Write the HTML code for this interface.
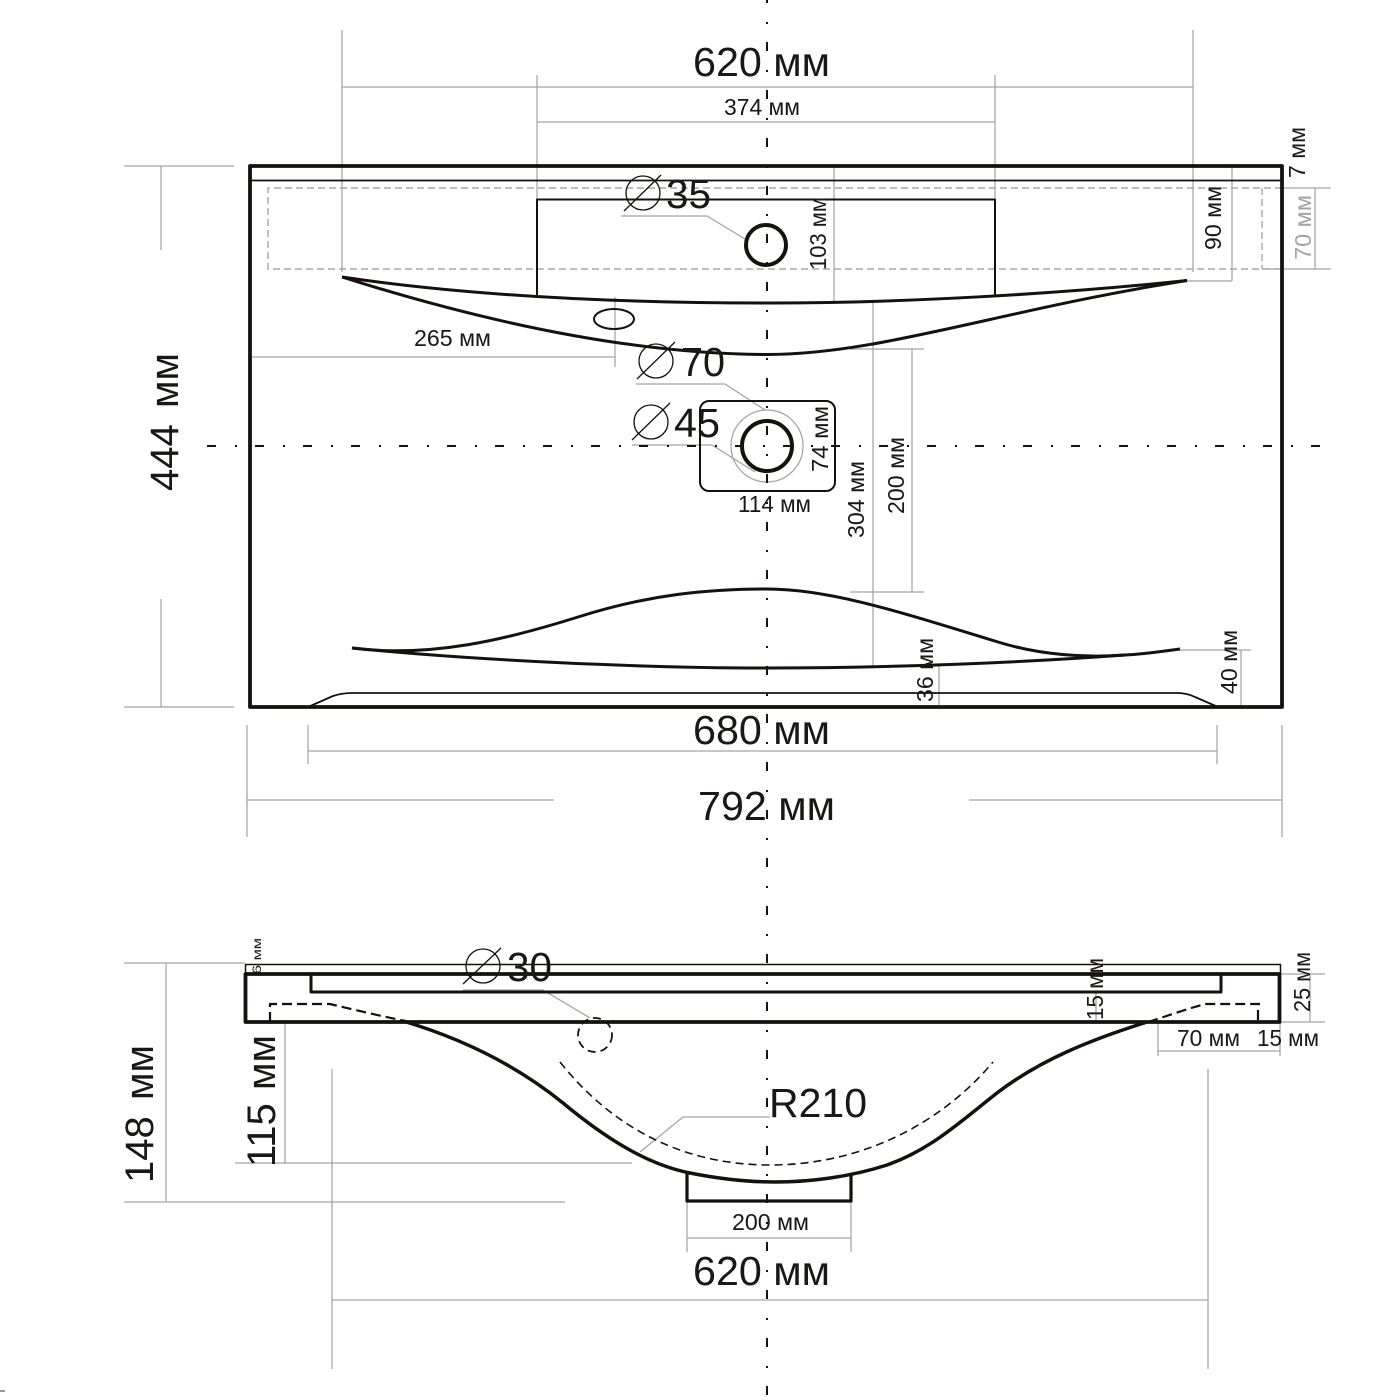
<!DOCTYPE html>
<html><head><meta charset="utf-8"><style>
html,body{margin:0;padding:0;background:#fff}
svg{display:block}
text{font-family:"Liberation Sans",sans-serif;fill:#1a1716}
.g{stroke:#a3a3a3;stroke-width:1.25;fill:none}
.k{stroke:#15110f;fill:none;stroke-linejoin:round}
</style></head><body>
<svg width="1400" height="1400" viewBox="0 0 1400 1400" xmlns="http://www.w3.org/2000/svg">
<rect width="1400" height="1400" fill="#fff"/>
<!-- grey dimension lines -->
<path class="g" d="M342 30V272M1193 30V272M342 87H1193M537 75V296M995 75V296M537 122H995
M124 166H234M124 707H234M161 166V250M161 599V707
M250 357H615M615 297V367M834 166V302M1232 166V281M1187 281H1232
M1282 188H1331M1262 269H1331M1315 188V269
M850 349H924M850 592H924M912 349V592M873 302V666M939 665V707M1241 650V707M1180 650H1251
M308 725V764M1217 725V764M308 751H1217M247 725V837M1282 725V837M247 800H554M969 800H1282
M124 963H245M124 1202H565M166 963V1202M285 1022V1163M235 1163H632
M332 1069V1369M1208 1069V1369M332 1300H1208M687 1201V1252M851 1201V1252M687 1238H851
M1096 992V1022M1280 974H1325M1280 1022H1325M1310 974V1022
M1158 1022V1056M1280 1022V1056M1158 1051H1280
M621 216H707L745 239M636 384H725L765 410M632 445H712L755 472M463 990H543L590 1018M770 1117H683L640 1152"/>
<circle class="g" cx="767" cy="446" r="36"/>
<!-- dashed grey rectangle -->
<path d="M1282 188H268V269H1282M1262 188V269" fill="none" stroke="#a8a8a8" stroke-width="1.4" stroke-dasharray="7 4"/>
<!-- axes -->
<path class="k" d="M767 0V1400" stroke-width="2" stroke-dasharray="9 19 2 18" stroke-dashoffset="6"/>
<path class="k" d="M207 446H1320" stroke-width="2" stroke-dasharray="9 19 2 18"/>
<!-- top view -->
<rect class="k" x="250" y="166" width="1032" height="541" stroke-width="3.800"/>
<path class="k" d="M250 180.500H1282" stroke-width="1.800"/>
<path class="k" d="M537 297V199.500H995V297" stroke-width="2"/>
<path class="k" stroke-width="3" d="M342 277C470 296 620 303 770 303C900 303 1060 294 1187 280.500"/>
<path class="k" stroke-width="3" d="M342 277C465 316 620 354 767 354.500C880 354.500 1000 310 1187 280.500"/>
<circle class="k" cx="766" cy="245" r="20" stroke-width="4"/>
<ellipse class="k" cx="614" cy="319" rx="20" ry="10" stroke-width="2"/>
<rect class="k" x="700" y="401" width="135" height="90" rx="9" stroke-width="2"/>
<circle class="k" cx="767" cy="446" r="25" stroke-width="4"/>
<path class="k" stroke-width="3" d="M352 648C430 658 505 640 578 617C650 594 710 589 767 589C830 589 900 612 998 642C1040 655 1085 658 1125 655C1145 654 1165 651 1180 649"/>
<path class="k" stroke-width="3" d="M352 648C470 660 640 668 767 668C900 668 1030 662 1125 655"/>
<path class="k" stroke-width="1.800" d="M308 707L333 696Q342 693 352 693H1177Q1187 693 1195 697L1218 707"/>
<!-- side view -->
<rect class="k" x="245.500" y="964.500" width="1035" height="9.500" stroke-width="1.500"/>
<rect class="k" x="245.500" y="974" width="1034" height="48" stroke-width="3.800"/>
<path class="k" stroke-width="3" d="M311 975V992H1221V975"/>
<path class="k" stroke-width="3.500" d="M403 1021C460 1038 515 1064 563 1103C610 1142 650 1165 690 1173C715 1178 745 1182 775 1182C810 1182 850 1177 887 1165C930 1150 960 1122 997 1093C1040 1060 1090 1040 1147 1022"/>
<path class="k" stroke-width="3.200" d="M687 1172V1201H851V1175"/>
<path class="k" stroke-width="2.200" stroke-dasharray="10 5" d="M270 1022V1004H330C355 1010 385 1017 410 1022"/>
<path class="k" stroke-width="2.200" stroke-dasharray="10 5" d="M1148 1022C1170 1015 1190 1008 1205 1004H1260M1258 1010V1022"/>
<path class="k" stroke-width="1.600" stroke-dasharray="8 5" d="M560 1062C610 1125 680 1165 770 1165C860 1165 940 1125 993 1062"/>
<circle class="k" cx="595" cy="1035" r="17" stroke-width="1.800" stroke-dasharray="8 5"/>
<!-- diameter symbols -->
<g class="k" stroke-width="1.300">
<circle cx="643" cy="193" r="17"/><path d="M624 211L661 175"/>
<circle cx="656" cy="361" r="17"/><path d="M637 379L675 342"/>
<circle cx="651" cy="422" r="17"/><path d="M632 440L670 403"/>
<circle cx="483" cy="966" r="17"/><path d="M463 984L501 948"/>
</g>
<!-- horizontal labels -->
<g font-size="41">
<text x="693" y="76" textLength="137" lengthAdjust="spacingAndGlyphs">620 мм</text>
<text x="693" y="744" textLength="137" lengthAdjust="spacingAndGlyphs">680 мм</text>
<text x="698" y="820" textLength="137" lengthAdjust="spacingAndGlyphs">792 мм</text>
<text x="693" y="1285" textLength="137" lengthAdjust="spacingAndGlyphs">620 мм</text>
<text x="769" y="1117" textLength="98" lengthAdjust="spacingAndGlyphs">R210</text>
<text x="666" y="208" textLength="45" lengthAdjust="spacingAndGlyphs">35</text>
<text x="681" y="376" textLength="44" lengthAdjust="spacingAndGlyphs">70</text>
<text x="674" y="437" textLength="46" lengthAdjust="spacingAndGlyphs">45</text>
<text x="507" y="981" textLength="45" lengthAdjust="spacingAndGlyphs">30</text>
</g>
<g font-size="23">
<text x="724" y="115" textLength="76" lengthAdjust="spacingAndGlyphs">374 мм</text>
<text x="414" y="346" textLength="77" lengthAdjust="spacingAndGlyphs">265 мм</text>
<text x="738" y="512" textLength="73" lengthAdjust="spacingAndGlyphs">114 мм</text>
<text x="732" y="1230" textLength="77" lengthAdjust="spacingAndGlyphs">200 мм</text>
<text x="1177" y="1046" textLength="63" lengthAdjust="spacingAndGlyphs">70 мм</text>
<text x="1257" y="1046" textLength="62" lengthAdjust="spacingAndGlyphs">15 мм</text>
</g>
<!-- rotated labels -->
<g font-size="40">
<text transform="translate(178 491) rotate(-90)">444<tspan x="83">мм</tspan></text>
<text transform="translate(153 1183) rotate(-90)">148<tspan x="83">мм</tspan></text>
<text transform="translate(275 1167) rotate(-90)">115<tspan x="77">мм</tspan></text>
</g>
<g font-size="23">
<text transform="translate(826 270) rotate(-90)" textLength="73" lengthAdjust="spacingAndGlyphs">103 мм</text>
<text transform="translate(1221 250) rotate(-90)" textLength="64" lengthAdjust="spacingAndGlyphs">90 мм</text>
<text transform="translate(1305 178) rotate(-90)" textLength="51" lengthAdjust="spacingAndGlyphs">7 мм</text>
<text transform="translate(1311 260) rotate(-90)" textLength="65" lengthAdjust="spacingAndGlyphs" style="fill:#a3a3a3">70 мм</text>
<text transform="translate(828 472) rotate(-90)" textLength="66" lengthAdjust="spacingAndGlyphs">74 мм</text>
<text transform="translate(864 538) rotate(-90)" textLength="77" lengthAdjust="spacingAndGlyphs">304 мм</text>
<text transform="translate(904 514) rotate(-90)" textLength="77" lengthAdjust="spacingAndGlyphs">200 мм</text>
<text transform="translate(933 702) rotate(-90)" textLength="64" lengthAdjust="spacingAndGlyphs">36 мм</text>
<text transform="translate(1237 694) rotate(-90)" textLength="64" lengthAdjust="spacingAndGlyphs">40 мм</text>
<text transform="translate(1103 1020) rotate(-90)" textLength="62" lengthAdjust="spacingAndGlyphs">15 мм</text>
<text transform="translate(1310 1012) rotate(-90)" textLength="60" lengthAdjust="spacingAndGlyphs">25 мм</text>
</g>
<text font-size="12" transform="translate(261 974) rotate(-90)" textLength="36" lengthAdjust="spacingAndGlyphs">6 мм</text>
<path d="M0 1391H5" stroke="#333" stroke-width="1"/>
</svg>
</body></html>
